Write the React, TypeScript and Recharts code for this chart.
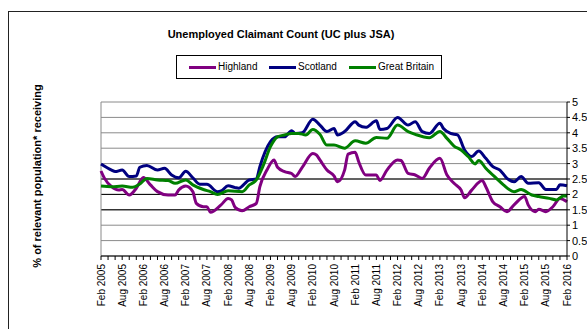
import React from "react";
import { LineChart, Line, XAxis, YAxis, CartesianGrid, ReferenceLine, Legend } from "recharts";

// Month index 0 = Feb 2005 ... 132 = Feb 2016
const xTickLabels = [
  "Feb 2005", "Aug 2005", "Feb 2006", "Aug 2006", "Feb 2007", "Aug 2007",
  "Feb 2008", "Aug 2008", "Feb 2009", "Aug 2009", "Feb 2010", "Aug 2010",
  "Feb 2011", "Aug 2011", "Feb 2012", "Aug 2012", "Feb 2013", "Aug 2013",
  "Feb 2014", "Aug 2014", "Feb 2015", "Aug 2015", "Feb 2016",
];
const yTicks = [0, 0.5, 1, 1.5, 2, 2.5, 3, 3.5, 4, 4.5, 5];
const seriesNames = ["Highland", "Scotland", "Great Britain"];
const seriesColors = ["#800080", "#000080", "#008000"];

const highlandMonths = [0, 1, 3, 5, 6, 8, 10, 12, 14, 16, 19, 21, 22, 24, 26, 27, 29, 30, 31, 34, 36, 37, 38, 40, 42, 44, 45, 47, 49, 50, 52, 54, 55, 57, 60, 61, 62, 64, 66, 67, 69, 70, 72, 73, 75, 78, 79, 81, 84, 85, 87, 89, 91, 93, 96, 98, 100, 102, 103, 105, 108, 109, 111, 113, 115, 117, 120, 121, 123, 124, 126, 128, 130, 132];
const highlandValues = [2.76, 2.52, 2.25, 2.14, 2.16, 1.98, 2.2, 2.55, 2.31, 2.09, 1.98, 1.98, 2.14, 2.27, 2.09, 1.71, 1.6, 1.6, 1.42, 1.66, 1.87, 1.82, 1.58, 1.47, 1.6, 1.71, 2.25, 2.79, 3.12, 2.88, 2.74, 2.68, 2.58, 2.88, 3.33, 3.28, 3.12, 2.79, 2.6, 2.41, 2.79, 3.31, 3.37, 3.06, 2.63, 2.63, 2.45, 2.79, 3.12, 3.1, 2.68, 2.63, 2.52, 2.85, 3.17, 2.63, 2.36, 2.14, 1.89, 2.14, 2.45, 2.25, 1.76, 1.6, 1.44, 1.66, 1.93, 1.66, 1.44, 1.52, 1.44, 1.6, 1.87, 1.76];

const scotlandMonths = [0, 3, 4, 6, 8, 10, 11, 13, 16, 18, 20, 22, 24, 26, 28, 30, 33, 34, 36, 38, 39, 42, 44, 45, 48, 50, 52, 54, 55, 57, 60, 62, 64, 66, 67, 69, 72, 73, 75, 78, 79, 81, 84, 87, 89, 91, 93, 96, 97, 99, 101, 103, 105, 107, 109, 111, 113, 115, 117, 119, 121, 124, 126, 129, 130, 132];
const scotlandValues = [2.99, 2.79, 2.74, 2.79, 2.58, 2.6, 2.88, 2.94, 2.79, 2.85, 2.63, 2.54, 2.75, 2.54, 2.33, 2.33, 2.09, 2.11, 2.28, 2.22, 2.2, 2.47, 2.5, 2.9, 3.71, 3.87, 3.87, 4.07, 3.98, 4.0, 4.44, 4.25, 4.04, 4.14, 3.93, 4.04, 4.36, 4.25, 4.18, 4.39, 4.11, 4.14, 4.5, 4.25, 4.36, 4.04, 3.98, 4.31, 4.14, 3.98, 3.93, 3.44, 3.23, 3.41, 3.17, 2.9, 2.79, 2.52, 2.41, 2.58, 2.36, 2.38, 2.16, 2.16, 2.31, 2.28];

const gbMonths = [0, 3, 6, 9, 11, 13, 16, 19, 21, 24, 26, 29, 31, 33, 36, 40, 42, 44, 46, 48, 50, 52, 54, 56, 58, 60, 62, 64, 66, 69, 72, 75, 78, 81, 84, 87, 89, 93, 96, 98, 100, 102, 104, 106, 107, 109, 112, 114, 117, 119, 122, 124, 127, 129, 131, 132];
const gbValues = [2.27, 2.25, 2.27, 2.23, 2.34, 2.52, 2.47, 2.45, 2.36, 2.47, 2.31, 2.16, 2.09, 2.0, 2.12, 2.09, 2.31, 2.47, 2.95, 3.55, 3.87, 3.93, 3.98, 3.98, 3.93, 4.11, 3.95, 3.6, 3.6, 3.5, 3.74, 3.66, 3.85, 3.82, 4.25, 4.04, 3.95, 3.84, 4.04, 3.82, 3.57, 3.44, 3.23, 2.99, 3.1, 2.85, 2.52, 2.31, 2.09, 2.16, 1.98, 1.93, 1.87, 1.82, 1.95, 1.95];

const toData = (months: number[], values: number[]) => months.map((m, i) => ({ m, v: values[i] }));
const highlandData = toData(highlandMonths, highlandValues);
const scotlandData = toData(scotlandMonths, scotlandValues);
const gbData = toData(gbMonths, gbValues);

const xTicks = Array.from({ length: 67 }, (_, i) => i * 2);
const FONT = "Arial, 'Liberation Sans', sans-serif";

const XTick = (props: any) => {
  const { x, y, payload } = props;
  const v = payload.value as number;
  if (v % 6 !== 0) return <g />;
  return (
    <text
      transform={`translate(${x},${y + 2}) rotate(-90)`}
      textAnchor="end"
      dominantBaseline="central"
      fontSize={10}
      fontFamily={FONT}
      fill="#000"
    >
      {xTickLabels[v / 6]}
    </text>
  );
};

const swatchLeft = [12, 92, 172];

const LegendBox = () => (
  <div
    style={{
      position: "relative",
      border: "1px solid #000",
      width: 266,
      height: 24,
      boxSizing: "border-box",
      fontFamily: FONT,
      fontSize: 10,
      background: "#fff",
    }}
  >
    {seriesNames.map((name, i) => (
      <React.Fragment key={name}>
        <div style={{ position: "absolute", left: swatchLeft[i], top: 10, width: 27, height: 3, background: seriesColors[i] }} />
        <span style={{ position: "absolute", left: swatchLeft[i] + 29, top: 5, lineHeight: "12px", whiteSpace: "nowrap" }}>{name}</span>
      </React.Fragment>
    ))}
  </div>
);

export default function App() {
  return (
    <div style={{ position: "fixed", left: 0, top: 0, width: 587, height: 329, overflow: "hidden", background: "#fff" }}>
      <div style={{ position: "absolute", left: 8, top: 11, width: 700, height: 400, border: "1px solid #222" }} />
      <div
        style={{
          position: "absolute",
          left: 281,
          top: 27,
          transform: "translateX(-50%)",
          whiteSpace: "nowrap",
          fontFamily: FONT,
          fontWeight: "bold",
          fontSize: 11,
          lineHeight: "14px",
        }}
      >
        Unemployed Claimant Count (UC plus JSA)
      </div>
      <div
        style={{
          position: "absolute",
          left: 37,
          top: 176,
          transform: "translate(-50%,-50%) rotate(-90deg)",
          whiteSpace: "nowrap",
          fontFamily: FONT,
          fontWeight: "bold",
          fontSize: 11,
          lineHeight: "14px",
        }}
      >
        % of relevant population* receiving
      </div>
      <div style={{ position: "absolute", left: 0, top: 0 }}>
        <LineChart width={587} height={329} margin={{ top: 102, right: 0, bottom: 13, left: 101 }}>
          <CartesianGrid horizontal vertical={false} stroke="#8a8a8a" />
          <ReferenceLine y={1.5} stroke="#000" />
          <ReferenceLine y={2} stroke="#000" />
          <ReferenceLine y={2.5} stroke="#000" />
          <ReferenceLine x={0} stroke="#8a8a8a" />
          <XAxis
            type="number"
            dataKey="m"
            domain={[0, 132]}
            ticks={xTicks}
            interval={0}
            tick={<XTick />}
            tickSize={4}
            tickLine={{ stroke: "#000" }}
            axisLine={{ stroke: "#000" }}
            height={60}
          />
          <YAxis
            orientation="right"
            type="number"
            domain={[0, 5]}
            ticks={yTicks}
            interval={0}
            width={20}
            tickSize={3}
            tickMargin={2}
            tickLine={{ stroke: "#000" }}
            axisLine={{ stroke: "#000" }}
            tick={{ fill: "#000", fontSize: 11, fontFamily: FONT }}
          />
          <Legend
            layout="horizontal"
            verticalAlign="middle"
            content={<LegendBox />}
            wrapperStyle={{ position: "absolute", left: 176, top: 55, width: 266, height: 24 }}
          />
          <Line type="monotone" data={highlandData} dataKey="v" name="Highland" stroke="#800080" strokeWidth={3} dot={false} activeDot={false} isAnimationActive={false} />
          <Line type="monotone" data={scotlandData} dataKey="v" name="Scotland" stroke="#000080" strokeWidth={3} dot={false} activeDot={false} isAnimationActive={false} />
          <Line type="monotone" data={gbData} dataKey="v" name="Great Britain" stroke="#008000" strokeWidth={3} dot={false} activeDot={false} isAnimationActive={false} />
        </LineChart>
      </div>
    </div>
  );
}
